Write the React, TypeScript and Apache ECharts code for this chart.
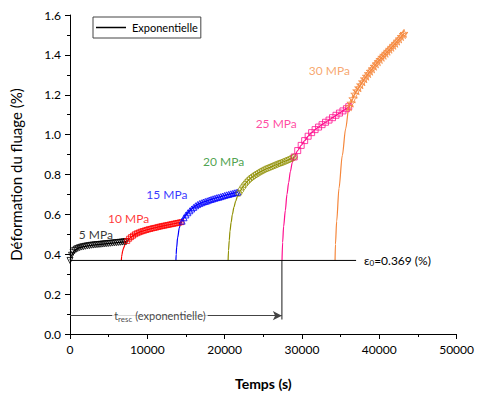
import React, { useEffect, useRef } from "react";
import * as echarts from "echarts";

type P = [number, number];

const EPS0 = 0.369;
const T_RESC = 27400;
const ARROW_Y = 0.092;
const EPS_LINE_END = 37000;

// 5 MPa
const s5Rise: P[] = [];
const s5Pts: P[] = [
  [0, 0.369], [200, 0.395], [400, 0.41], [600, 0.419], [800, 0.425], [1000, 0.429],
  [1250, 0.433], [1500, 0.436], [1750, 0.438], [2000, 0.44], [2250, 0.442], [2500, 0.443],
  [2750, 0.445], [3000, 0.446], [3250, 0.447], [3500, 0.448], [3750, 0.449], [4000, 0.45],
  [4250, 0.451], [4500, 0.452], [4750, 0.453], [5000, 0.454], [5250, 0.455], [5500, 0.456],
  [5750, 0.457], [6000, 0.458], [6250, 0.459], [6500, 0.46], [6750, 0.461], [7000, 0.462],
  [7250, 0.463],
];
// 10 MPa
const s10Rise: P[] = [
  [6640, 0.369], [6680, 0.39], [6730, 0.4], [6810, 0.417], [6900, 0.428], [6980, 0.436],
  [7100, 0.447], [7250, 0.458],
];
const s10Pts: P[] = [
  [7400, 0.467], [7650, 0.478], [7900, 0.486], [8150, 0.493], [8400, 0.5], [8650, 0.505],
  [8900, 0.509], [9150, 0.513], [9400, 0.516], [9650, 0.519], [9900, 0.522], [10150, 0.525],
  [10400, 0.527], [10650, 0.53], [10900, 0.532], [11150, 0.534], [11400, 0.537], [11650, 0.539],
  [11900, 0.541], [12150, 0.543], [12400, 0.545], [12650, 0.547], [12900, 0.549], [13150, 0.551],
  [13400, 0.553], [13650, 0.555], [13900, 0.557], [14150, 0.559], [14400, 0.561],
];
// 15 MPa
const s15Rise: P[] = [
  [13700, 0.369], [13730, 0.4], [13790, 0.433], [13920, 0.483], [14140, 0.532], [14300, 0.552],
];
const s15Pts: P[] = [
  [14500, 0.566], [14750, 0.583], [15000, 0.597], [15250, 0.608], [15500, 0.618], [15750, 0.627],
  [16000, 0.635], [16250, 0.643], [16500, 0.649], [16750, 0.654], [17000, 0.658], [17250, 0.662],
  [17500, 0.665], [17750, 0.668], [18000, 0.672], [18250, 0.675], [18500, 0.678], [18750, 0.681],
  [19000, 0.684], [19250, 0.686], [19500, 0.689], [19750, 0.692], [20000, 0.695], [20250, 0.698],
  [20500, 0.7], [20750, 0.703], [21000, 0.705], [21250, 0.708], [21500, 0.71], [21700, 0.711],
];
// 20 MPa
const s20Rise: P[] = [
  [20450, 0.369], [20500, 0.42], [20600, 0.47], [20690, 0.516], [20840, 0.56], [21000, 0.599],
  [21200, 0.635], [21420, 0.665], [21650, 0.69],
];
const s20Pts: P[] = [
  [21850, 0.706], [22100, 0.722], [22350, 0.737], [22600, 0.75], [22850, 0.762], [23100, 0.772],
  [23350, 0.781], [23600, 0.788], [23850, 0.795], [24100, 0.801], [24350, 0.807], [24600, 0.813],
  [24850, 0.818], [25100, 0.823], [25350, 0.828], [25600, 0.832], [25850, 0.836], [26100, 0.84],
  [26350, 0.844], [26600, 0.848], [26850, 0.852], [27100, 0.856], [27350, 0.859], [27600, 0.863],
  [27850, 0.867], [28100, 0.871], [28350, 0.875], [28600, 0.88], [28850, 0.884], [29000, 0.888],
];
// 25 MPa
const s25Rise: P[] = [
  [27420, 0.369], [27500, 0.46], [27630, 0.54], [27850, 0.62], [28060, 0.7], [28280, 0.76],
  [28500, 0.815], [28750, 0.86],
];
const s25Pts: P[] = [
  [29000, 0.888], [29450, 0.92], [29900, 0.946], [30350, 0.97], [30800, 0.992], [31250, 1.01],
  [31700, 1.025], [32150, 1.038], [32600, 1.05], [33050, 1.062], [33500, 1.073], [33950, 1.085],
  [34400, 1.097], [34850, 1.108], [35300, 1.119], [35750, 1.13], [36050, 1.14],
];
// 30 MPa
const s30Rise: P[] = [
  [34280, 0.369], [34330, 0.45], [34490, 0.566], [34790, 0.731], [35220, 0.896], [35650, 1.029],
];
const s30Pts: P[] = [
  [36080, 1.14], [36330, 1.158], [36580, 1.18], [36830, 1.203], [37080, 1.22], [37330, 1.235],
  [37580, 1.25], [37830, 1.265], [38080, 1.28], [38330, 1.293], [38580, 1.306], [38830, 1.318],
  [39080, 1.33], [39330, 1.343], [39580, 1.355], [39830, 1.366], [40080, 1.377], [40330, 1.388],
  [40580, 1.398], [40830, 1.408], [41080, 1.418], [41330, 1.428], [41580, 1.438], [41830, 1.448],
  [42080, 1.458], [42330, 1.469], [42580, 1.48], [42830, 1.492], [43080, 1.502], [43200, 1.508],
];

const stressLabels = ["5 MPa", "10 MPa", "15 MPa", "20 MPa", "25 MPa", "30 MPa"];
const labelPos: P[] = [
  [3340, 0.499], [7580, 0.579], [12530, 0.699], [19860, 0.865], [26670, 1.054], [33550, 1.323],
];

const FONT = "Lato";
const STAR = "path://M50,0 L61,35 L98,35 L68,57 L79,91 L50,70 L21,91 L32,57 L2,35 L39,35 Z";

const stages = [
  { rise: s5Rise, pts: s5Pts, color: "#000000", label: "#000000", symbol: "triangle", rotate: 180, size: 6 },
  { rise: s10Rise, pts: s10Pts, color: "#ff0000", label: "#ff0000", symbol: "rect", rotate: 0, size: 5 },
  { rise: s15Rise, pts: s15Pts, color: "#0000ff", label: "#0000ff", symbol: "triangle", rotate: 0, size: 6 },
  { rise: s20Rise, pts: s20Pts, color: "#8f8f00", label: "#228b22", symbol: "circle", rotate: 0, size: 6 },
  { rise: s25Rise, pts: s25Pts, color: "#ff0f8f", label: "#ff1a8c", symbol: "rect", rotate: 0, size: 6 },
  { rise: s30Rise, pts: s30Pts, color: "#f5863a", label: "#f5904a", symbol: STAR, rotate: 0, size: 8 },
];

export default function App() {
  const ref = useRef<HTMLDivElement>(null);
  useEffect(() => {
    document.body.style.margin = "0";
    const chart = echarts.init(ref.current!, null, { renderer: "svg" });
    const series: any[] = [];
    series.push({
      name: "Exponentielle",
      type: "line",
      data: [],
      symbol: "none",
      lineStyle: { color: "#000", width: 1.5 },
      itemStyle: { color: "#000" },
    });
    // epsilon0 line
    series.push({
      type: "line",
      silent: true,
      data: [[0, EPS0], [EPS_LINE_END, EPS0]],
      symbol: "none",
      lineStyle: { color: "#000", width: 1 },
      z: 5,
      endLabel: {
        show: true,
        distance: 8,
        formatter: "{a|ε}{b|0}{a|=0.369 (%)}",
        rich: {
          a: { fontFamily: FONT, fontSize: 12, color: "#000" },
          b: { fontFamily: FONT, fontSize: 8, color: "#000", padding: [6, 0, 0, 0] },
        },
      },
      markLine: {
        silent: true,
        symbol: ["none", "arrow"],
        symbolSize: [7, 9],
        label: { show: false },
        lineStyle: { color: "#444", type: "solid", width: 1 },
        data: [[{ coord: [0, ARROW_Y] }, { coord: [T_RESC, ARROW_Y] }]],
      },
    });
    // t_resc vertical line
    series.push({
      type: "line",
      silent: true,
      data: [[T_RESC, EPS0], [T_RESC, 0.073]],
      symbol: "none",
      lineStyle: { color: "#666", width: 1.5 },
      z: 4,
    });
    // t_resc label
    series.push({
      type: "scatter",
      silent: true,
      symbolSize: 0,
      z: 6,
      data: [[11630, ARROW_Y]],
      label: {
        show: true,
        position: "inside",
        backgroundColor: "#fff",
        padding: [0, 2],
        formatter: "{a|t}{b|resc}{a| (exponentielle)}",
        rich: {
          a: { fontFamily: FONT, fontSize: 11, color: "#111" },
          b: { fontFamily: FONT, fontSize: 8, color: "#111", padding: [6, 0, 0, 0] },
        },
      },
    });
    stages.forEach((s, i) => {
      series.push({
        type: "line",
        silent: true,
        data: [...s.rise, ...s.pts],
        symbol: "none",
        smooth: 0.3,
        smoothMonotone: "x",
        lineStyle: { color: s.color, width: 1.2 },
        z: 3,
      });
      series.push({
        type: "scatter",
        silent: true,
        data: s.pts,
        symbol: s.symbol,
        symbolRotate: s.rotate,
        symbolSize: s.size,
        itemStyle: { color: "rgba(255,255,255,0)", borderColor: s.color, borderWidth: 1 },
        z: 4,
      });
      series.push({
        type: "scatter",
        silent: true,
        symbolSize: 0,
        data: [labelPos[i]],
        label: {
          show: true,
          position: "inside",
          formatter: stressLabels[i],
          fontFamily: FONT,
          fontSize: 12,
          color: s.label,
        },
        z: 6,
      });
    });

    chart.setOption({
      animation: false,
      textStyle: { fontFamily: FONT },
      grid: { left: 70, top: 15, right: 18, bottom: 58 },
      legend: {
        data: [{ name: "Exponentielle", icon: "path://M0,0H100V5H0Z" }],
        left: 93,
        top: 17,
        orient: "vertical",
        borderColor: "#444",
        borderWidth: 1,
        padding: [4, 3, 4, 3],
        itemWidth: 32,
        itemHeight: 1.5,
        itemGap: 4,
        textStyle: { fontFamily: FONT, fontSize: 11, color: "#000", lineHeight: 13 },
        selectedMode: false,
      },
      xAxis: {
        type: "value",
        min: 0,
        max: 50000,
        interval: 10000,
        name: "Temps (s)",
        nameLocation: "middle",
        nameGap: 42,
        nameTextStyle: { fontFamily: FONT, fontSize: 14, fontWeight: "bold", color: "#000" },
        axisLine: { show: true, onZero: false, lineStyle: { color: "#000", width: 1 } },
        axisTick: { show: true, inside: false, length: 5, lineStyle: { color: "#000" } },
        minorTick: { show: true, splitNumber: 2, length: 3, lineStyle: { color: "#000" } },
        splitLine: { show: false },
        axisLabel: { fontFamily: FONT, fontSize: 12, color: "#000", margin: 9, formatter: (v: number) => String(v) },
      },
      yAxis: {
        type: "value",
        min: 0,
        max: 1.6,
        interval: 0.2,
        name: "Déformation du fluage (%)",
        nameLocation: "middle",
        nameGap: 47,
        nameTextStyle: { fontFamily: FONT, fontSize: 15, color: "#000" },
        axisLine: { show: true, lineStyle: { color: "#000", width: 1 } },
        axisTick: { show: true, inside: false, length: 5, lineStyle: { color: "#000" } },
        minorTick: { show: true, splitNumber: 2, length: 3, lineStyle: { color: "#000" } },
        splitLine: { show: false },
        axisLabel: { fontFamily: FONT, fontSize: 12, color: "#000", margin: 9, formatter: (v: number) => v.toFixed(1) },
      },
      series,
    });
    return () => chart.dispose();
  }, []);
  return <div ref={ref} style={{ width: 477, height: 395 }} />;
}
